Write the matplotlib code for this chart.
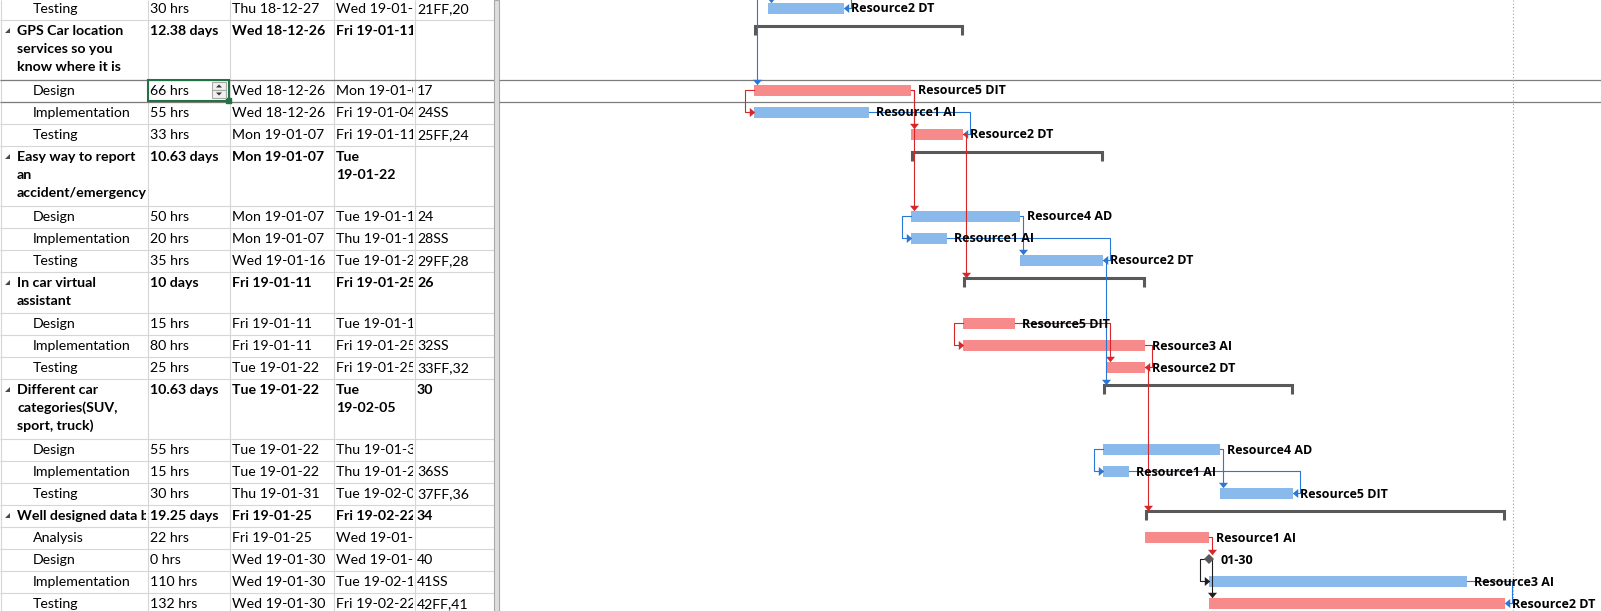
import re
import numpy as np
import matplotlib
matplotlib.use("Agg")
import matplotlib.pyplot as plt
import matplotlib.dates as mdates
from matplotlib.patches import Rectangle, Polygon

# --- sheet rows (task ids as in the project file) ---
ids = [22, 23, 24, 25, 26, 27, 28, 29, 30, 31, 32, 33, 34, 35, 36, 37, 38, 39, 40, 41, 42, 43]
names = ["Testing",
         "GPS Car location\nservices so you\nknow where it is",
         "Design", "Implementation", "Testing",
         "Easy way to report\nan\naccident/emergency",
         "Design", "Implementation", "Testing",
         "In car virtual\nassistant",
         "Design", "Implementation", "Testing",
         "Different car\ncategories(SUV,\nsport, truck)",
         "Design", "Implementation", "Testing",
         "Well designed data base",
         "Analysis", "Design", "Implementation", "Testing"]
is_summary = [0, 1, 0, 0, 0, 1, 0, 0, 0, 1, 0, 0, 0, 1, 0, 0, 0, 1, 0, 0, 0, 0]
durations = ["30 hrs", "12.38 days", "66 hrs", "55 hrs", "33 hrs", "10.63 days", "50 hrs", "20 hrs",
             "35 hrs", "10 days", "15 hrs", "80 hrs", "25 hrs", "10.63 days", "55 hrs", "15 hrs",
             "30 hrs", "19.25 days", "22 hrs", "0 hrs", "110 hrs", "132 hrs"]
start_txt = ["Thu 18-12-27", "Wed 18-12-26", "Wed 18-12-26", "Wed 18-12-26", "Mon 19-01-07",
             "Mon 19-01-07", "Mon 19-01-07", "Mon 19-01-07", "Wed 19-01-16", "Fri 19-01-11",
             "Fri 19-01-11", "Fri 19-01-11", "Tue 19-01-22", "Tue 19-01-22", "Tue 19-01-22",
             "Tue 19-01-22", "Thu 19-01-31", "Fri 19-01-25", "Fri 19-01-25", "Wed 19-01-30",
             "Wed 19-01-30", "Wed 19-01-30"]
finish_txt = ["Wed 19-01-02", "Fri 19-01-11", "Mon 19-01-07", "Fri 19-01-04", "Fri 19-01-11",
              "Tue\n19-01-22", "Tue 19-01-15", "Thu 19-01-10", "Tue 19-01-22", "Fri 19-01-25",
              "Tue 19-01-15", "Fri 19-01-25", "Fri 19-01-25", "Tue\n19-02-05", "Thu 19-01-31",
              "Thu 19-01-24", "Tue 19-02-05", "Fri 19-02-22", "Wed 19-01-30", "Wed 19-01-30",
              "Tue 19-02-19", "Fri 19-02-22"]
preds = ["21FF,20", "", "17", "24SS", "25FF,24", "", "24", "28SS", "29FF,28", "26", "", "32SS",
         "33FF,32", "30", "", "36SS", "37FF,36", "34", "", "40", "41SS", "42FF,41"]

# bar extents (None for summary rows)
bar_start = ["2018-12-27 10:00", None, "2018-12-26 08:00", "2018-12-26 08:00", "2019-01-07 12:00",
             None, "2019-01-07 12:00", "2019-01-07 12:00", "2019-01-15 23:00", None,
             "2019-01-11 13:00", "2019-01-11 13:00", "2019-01-22 16:40", None,
             "2019-01-22 09:15", "2019-01-22 09:15", "2019-01-31 11:00", None,
             "2019-01-25 15:30", "2019-01-30 14:30", "2019-01-30 14:30", "2019-01-30 14:30"]
bar_end = ["2019-01-02 08:00", None, "2019-01-07 12:00", "2019-01-04 06:00", "2019-01-11 13:00",
           None, "2019-01-15 23:00", "2019-01-10 07:00", "2019-01-22 09:15", None,
           "2019-01-15 13:30", "2019-01-25 15:30", "2019-01-25 15:30", None,
           "2019-01-31 11:00", "2019-01-24 09:40", "2019-02-06 02:45", None,
           "2019-01-30 14:30", "2019-01-30 14:30", "2019-02-19 14:30", "2019-02-22 13:15"]
critical = [0, 0, 1, 0, 1, 0, 0, 0, 0, 0, 1, 1, 1, 0, 0, 0, 0, 0, 1, 0, 0, 1]
resources = ["Resource2 DT", "", "Resource5 DIT", "Resource1 AI", "Resource2 DT", "",
             "Resource4 AD", "Resource1 AI", "Resource2 DT", "", "Resource5 DIT", "Resource3 AI",
             "Resource2 DT", "", "Resource4 AD", "Resource1 AI", "Resource5 DIT", "",
             "Resource1 AI", "", "Resource3 AI", "Resource2 DT"]

# predecessors scrolled out of view above
ext_ids = [17, 20, 21]
ext_end = ["2018-12-26 06:30", "2018-12-27 10:00", "2019-01-02 08:00"]

selected_row = 2
view_left = "2018-12-06 13:36"
px_per_day = 12.9
status_line = "2019-02-23 04:00"

# colours
BLUE_BAR, RED_BAR = "#8ab9eb", "#f78a8a"
BLUE_LINK, RED_LINK, BLACK_LINK = "#2b77d4", "#d7262a", "#1e1e1e"
SUMMARY = "#595959"
GRID = "#d6d6d6"
SEL_LINE = "#7d7d7d"

TABLE_FONT = ["Lato", "DejaVu Sans"]
BAR_FONT = ["Open Sans", "DejaVu Sans"]

W, H = 1601, 611
TABLE_W, GANTT_X = 494, 499
col_edges = [0, 147, 229, 333, 414, 494]

fig = plt.figure(figsize=(W / 100, H / 100), dpi=100)
fig.patch.set_facecolor("white")

ax_t = fig.add_axes([0, 0, TABLE_W / W, 1])
ax_t.set_xlim(0, TABLE_W)
ax_t.set_ylim(H, 0)
ax_t.axis("off")

ax_g = fig.add_axes([GANTT_X / W, 0, (W - GANTT_X) / W, 1])
ax_g.set_ylim(H, 0)
ax_g.axis("off")

# row geometry
n = len(ids)
n_lines = [max(a.count("\n"), b.count("\n")) + 1 for a, b in zip(names, finish_txt)]
row_h = np.array([3 + 19 * k for k in n_lines])
row_top = -3 + np.concatenate([[0], np.cumsum(row_h)[:-1]])
row_bot = row_top + row_h
row_mid = row_top + 11

# ---------------- table ----------------
ax_t.hlines(np.concatenate([row_top, [row_bot[-1]]]) + 0.5, 0, TABLE_W, color=GRID, lw=0.8)
ax_t.vlines(np.array(col_edges[:-1]) + 0.5, 0, H, color=GRID, lw=0.8)
ax_t.hlines([row_top[selected_row] + 0.5, row_bot[selected_row] + 0.5], 0, TABLE_W,
            color=SEL_LINE, lw=0.9)

columns = [names, durations, start_txt, finish_txt, preds]
for i in range(n):
    weight = "bold" if is_summary[i] else "normal"
    for c, col in enumerate(columns):
        if c == 0:
            x = 17 if is_summary[i] else 33
        else:
            x = col_edges[c] + 3
        clip = Rectangle((col_edges[c], row_top[i]), col_edges[c + 1] - col_edges[c] - 1,
                         row_h[i], transform=ax_t.transData)
        for k, line in enumerate(col[i].split("\n")):
            t = ax_t.text(x, row_mid[i] + 18 * k + 5, line, fontsize=10.2, family=TABLE_FONT,
                          fontweight=weight, va="baseline", ha="left", color="black")
            t.set_clip_on(True)
            t.set_clip_path(clip)
    if is_summary[i]:
        y = row_mid[i]
        ax_t.add_patch(Polygon([(5, y + 3), (10, y + 3), (10, y - 2)], closed=True,
                               color="#4a4a4a", lw=0))

# selected duration cell with spinner
cx0, cx1 = col_edges[1], col_edges[2]
cy0, cy1 = row_top[selected_row], row_bot[selected_row]
ax_t.add_patch(Rectangle((cx0 + 0.5, cy0 + 0.5), cx1 - cx0 - 1, cy1 - cy0 - 1, fill=False,
                         ec="#217346", lw=1.5, zorder=5))
ax_t.add_patch(Rectangle((cx1 - 3, cy1 - 3), 5, 5, color="#217346", zorder=6, clip_on=False))
sx0, sx1 = cx1 - 17, cx1 - 3
smid = (cy0 + cy1) / 2
for top, bot, up in [(cy0 + 3, smid, True), (smid, cy1 - 3, False)]:
    ax_t.add_patch(Rectangle((sx0, top), sx1 - sx0, bot - top, fc="#f0f0f0", ec="#a9a9a9",
                             lw=0.8, zorder=6))
    mx, my = (sx0 + sx1) / 2, (top + bot) / 2
    if up:
        tri = [(mx - 3, my + 1.5), (mx + 3, my + 1.5), (mx, my - 1.5)]
    else:
        tri = [(mx - 3, my - 1.5), (mx + 3, my - 1.5), (mx, my + 1.5)]
    ax_t.add_patch(Polygon(tri, closed=True, color="#333333", lw=0, zorder=7))

# splitter between table and chart
ax_t.add_patch(Rectangle((TABLE_W, 0), GANTT_X - TABLE_W, H, fc="#dedede", ec="#a8a8a8",
                         lw=0.8, clip_on=False, zorder=8))

# ---------------- gantt ----------------
def num(s):
    return mdates.date2num(np.datetime64(s.replace(" ", "T")))

PX = 1.0 / px_per_day  # one pixel in days
x_left = num(view_left)
ax_g.set_xlim(x_left, x_left + (W - GANTT_X) * PX)

xs = np.array([num(s) if s else np.nan for s in bar_start])
xe = np.array([num(s) if s else np.nan for s in bar_end])

# summary spans from their children
for i in range(n):
    if is_summary[i]:
        j = i + 1
        while j < n and not is_summary[j]:
            j += 1
        xs[i] = np.nanmin(xs[i + 1:j])
        xe[i] = np.nanmax(xe[i + 1:j])

is_mile = [(not is_summary[i]) and xs[i] == xe[i] for i in range(n)]
yc = np.where(np.array(is_summary) == 1, row_top + 6, row_top + row_h / 2.0)

ax_g.hlines([row_top[selected_row] + 0.5, row_bot[selected_row] + 0.5], x_left,
            x_left + W * PX, color=SEL_LINE, lw=0.9, zorder=1)
ax_g.axvline(num(status_line), color="#a0a0a0", lw=0.8, ls=(0, (1, 2)), zorder=1)

task_idx = [i for i in range(n) if not is_summary[i] and not is_mile[i]]
ax_g.barh([yc[i] for i in task_idx], [xe[i] - xs[i] for i in task_idx],
          left=[xs[i] for i in task_idx], height=11,
          color=[RED_BAR if critical[i] else BLUE_BAR for i in task_idx], lw=0, zorder=2)

for i in range(n):
    if is_summary[i]:
        top = row_top[i] + 7.2
        ax_g.plot([xs[i] + PX, xs[i] + PX, xe[i] - PX, xe[i] - PX],
                  [top + 9, top, top, top + 9], color=SUMMARY, lw=2.2,
                  solid_joinstyle="miter", solid_capstyle="butt", zorder=2)
    elif is_mile[i]:
        ax_g.plot([xs[i]], [yc[i]], marker="D", ms=5.3, color=SUMMARY, mew=0, zorder=4)
        ax_g.text(xs[i] + 12 * PX, yc[i] + 4.5,
                  mdates.num2date(xe[i]).strftime("%m-%d"), fontsize=9, family=BAR_FONT,
                  fontweight="bold", va="baseline", zorder=6)
    if resources[i]:
        ax_g.text(xe[i] + 7 * PX, yc[i] + 4.5, resources[i], fontsize=9, family=BAR_FONT,
                  fontweight="bold", va="baseline", zorder=6)


# --- dependency links ---
def node(tid):
    if tid in ids:
        i = ids.index(tid)
        kind = "mile" if is_mile[i] else ("crit" if critical[i] else "norm")
        return dict(s=xs[i], e=xe[i], y=yc[i], kind=kind)
    k = ext_ids.index(tid)
    return dict(s=num(ext_end[k]), e=num(ext_end[k]), y=-40, kind="norm")


def top_of(i):
    if is_summary[i]:
        return row_top[i] + 6
    if is_mile[i]:
        return yc[i] - 5
    return yc[i] - 5.5


# flat arrow heads (wider than long)
HEAD_DOWN = [(-1, 0.6), (1, 0.6), (0, -0.6), (-1, 0.6)]
HEAD_RIGHT = [(-0.6, -1), (-0.6, 1), (0.6, 0), (-0.6, -1)]
HEAD_LEFT = [(0.6, -1), (0.6, 1), (-0.6, 0), (0.6, -1)]

link_col = {"crit": RED_LINK, "norm": BLUE_LINK, "mile": BLACK_LINK}
for i in range(n):
    for tok in filter(None, preds[i].split(",")):
        m = re.match(r"(\d+)(SS|FF|FS)?", tok)
        p = node(int(m.group(1)))
        kind = m.group(2) or "FS"
        col = link_col[p["kind"]]
        kw = dict(color=col, lw=0.8, zorder=3, solid_joinstyle="round")
        hk = dict(ms=6.5, color=col, mew=0, zorder=3, ls="none")
        if kind == "FS":
            vx = max(p["e"], xs[i]) + 3 * PX
            tip = top_of(i)
            ax_g.plot([p["e"], vx, vx], [p["y"], p["y"], tip - 3], **kw)
            ax_g.plot([vx], [tip - 2.2], marker=HEAD_DOWN, **hk)
        elif kind == "SS":
            hx = min(p["s"], xs[i]) - 9 * PX
            ax_g.plot([p["s"], hx, hx, xs[i] - 3 * PX], [p["y"], p["y"], yc[i], yc[i]], **kw)
            ax_g.plot([xs[i] - 2.2 * PX], [yc[i]], marker=HEAD_RIGHT, **hk)
        else:  # FF
            vx = max(p["e"], xe[i]) + 7 * PX
            ax_g.plot([p["e"], vx, vx, xe[i] + 3 * PX], [p["y"], p["y"], yc[i], yc[i]], **kw)
            ax_g.plot([xe[i] + 2.2 * PX], [yc[i]], marker=HEAD_LEFT, **hk)

fig.savefig("out.png", dpi=100)
